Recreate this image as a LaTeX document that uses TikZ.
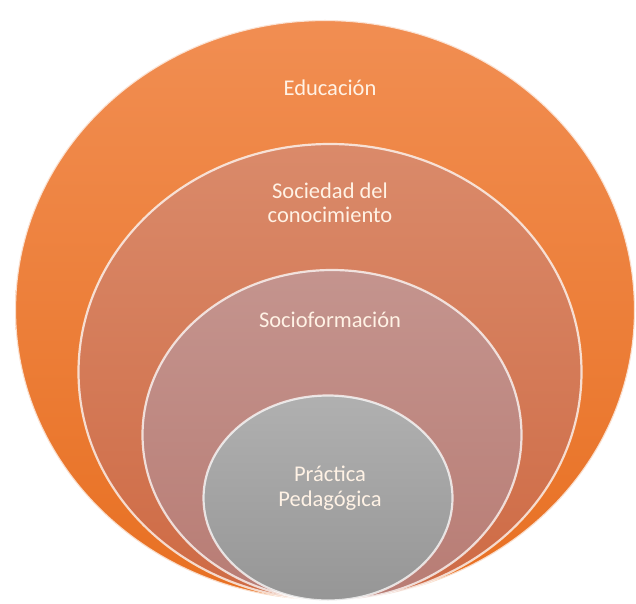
\documentclass[tikz,border=0pt]{standalone}
\usepackage{fontspec}
\setmainfont{Carlito}
\usepackage{tikz}
\usetikzlibrary{shapes.geometric}
\definecolor{edutop}{RGB}{241,142,82}
\definecolor{edubot}{RGB}{232,112,34}
\definecolor{soctop}{RGB}{218,138,106}
\definecolor{socbot}{RGB}{206,106,68}
\definecolor{fortop}{RGB}{196,148,142}
\definecolor{forbot}{RGB}{184,124,116}
\definecolor{practop}{RGB}{176,176,176}
\definecolor{pracbot}{RGB}{150,150,150}
\tikzset{ring/.style={ellipse,inner sep=0pt,draw=white,draw opacity=0.75,line width=2.2pt}}
\tikzset{label/.style={text=white!90!orange,font=\fontsize{22.5}{24.5}\selectfont,align=center}}

\begin{document}
\begin{tikzpicture}[%
		x = 1pt, y = 1pt, % one unit per pixel
		]
		\useasboundingbox (0,0) rectangle (636,603);
		
		% rings, outer first
		\node[ring, top color=edutop, bottom color=edubot, minimum width=620pt, minimum height=580pt] (edu) at (325,293) {};
		\node[ring, top color=soctop, bottom color=socbot, minimum width=503pt, minimum height=456pt] (soc) at (330,231) {};
		\node[ring, top color=fortop, bottom color=forbot, minimum width=379pt, minimum height=330pt] (form) at (332,168) {};
		\node[ring, top color=practop, bottom color=pracbot, minimum width=249pt, minimum height=205pt] (prac) at (328,105) {};
		
		% texts
		\node[label] (edutxt) at (330,515) {Educación};
		\node[label] (soctxt) at (330,400) {Sociedad del\\conocimiento};
		\node[label] (formtxt) at (330,283) {Socioformación};
		\node[label] (practxt) at (330,115) {Práctica\\Pedagógica};
		\end{tikzpicture}
\end{document}
